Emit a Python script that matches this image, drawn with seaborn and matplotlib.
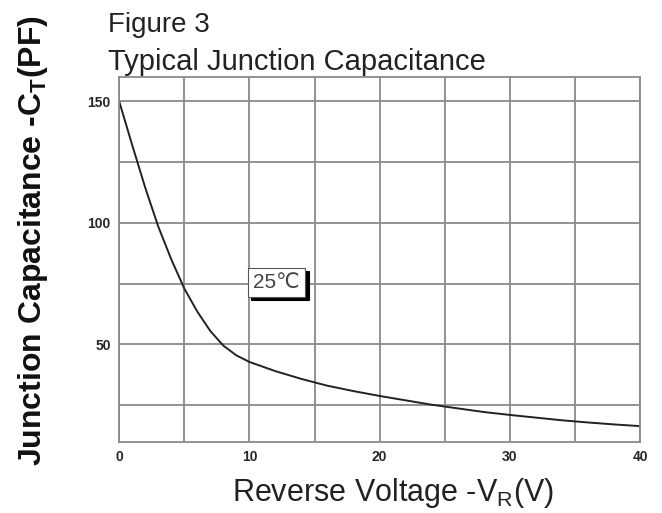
import numpy as np
import pandas as pd
import matplotlib
matplotlib.use('Agg')
import matplotlib.pyplot as plt
import seaborn as sns
from matplotlib.ticker import MultipleLocator

# values
voltage = [0, 1, 2, 3, 4, 5, 6, 7, 8, 9, 10, 12, 14, 16, 18, 20,
           22, 24, 26, 28, 30, 32, 34, 36, 38, 40]
capacitance = [150, 132, 114.5, 98.5, 85, 73, 63.5, 55.5, 49.5, 45.5, 42.8,
               39, 35.8, 33, 30.8, 28.8, 27, 25.2, 23.7, 22.2, 21, 19.9,
               18.8, 17.9, 17.1, 16.4]
x_ticks = [0, 10, 20, 30, 40]
y_ticks = [50, 100, 150]

df = pd.DataFrame({'V': voltage, 'C': capacitance})

sns.set_style('white')
plt.rcParams['font.family'] = ['Liberation Sans', 'DejaVu Sans']

fig = plt.figure(figsize=(6.62, 5.13), dpi=100)
ax = fig.add_axes([0.18, 0.139, 0.787, 0.711])

sns.lineplot(data=df, x='V', y='C', color='#222222', linewidth=1.4, ax=ax)

ax.set_xlim(0, 40)
ax.set_ylim(10, 160)
ax.set_xticks(x_ticks)
ax.set_yticks(y_ticks)
ax.xaxis.set_minor_locator(MultipleLocator(5))
ax.yaxis.set_minor_locator(MultipleLocator(25))
ax.grid(which='both', color='#8a8a8a', linewidth=1.3)
ax.tick_params(which='both', length=0, labelsize=10, pad=6)
for lab in ax.get_xticklabels() + ax.get_yticklabels():
    lab.set_fontweight('bold')
for s in ax.spines.values():
    s.set_color('#8a8a8a')
    s.set_linewidth(1.3)

ax.set_xlabel('Reverse Voltage -V$_\\mathregular{R}$(V)', fontsize=22, color='#222222')
ax.xaxis.set_label_coords(0.525, -0.095)
ax.set_ylabel('')
fig.text(33 / 662, 1 - 241 / 513, 'Junction Capacitance -C$_\\mathregular{T}$(PF)',
         fontsize=23, fontweight='bold', color='#111111', rotation=90,
         ha='center', va='center')

fig.text(0.163, 0.9376, 'Figure 3', fontsize=20, color='#222222', va='baseline')
fig.text(0.163, 0.8635, 'Typical Junction Capacitance', fontsize=21,
         color='#222222', va='baseline')

# 25 degC label with a dark drop shadow
ax.text(12.1, 75.5, '25\u2103', fontsize=15, color='#444444', ha='center', va='center',
        zorder=3,
        bbox=dict(boxstyle='square,pad=0.25', fc='white', ec='#555555', lw=0.8))
ax.text(12.35, 74.2, '25\u2103', fontsize=15, color='black', ha='center', va='center',
        zorder=2, alpha=0,
        bbox=dict(boxstyle='square,pad=0.25', fc='black', ec='black', lw=0.8))

fig.savefig('out.png', dpi=100)
